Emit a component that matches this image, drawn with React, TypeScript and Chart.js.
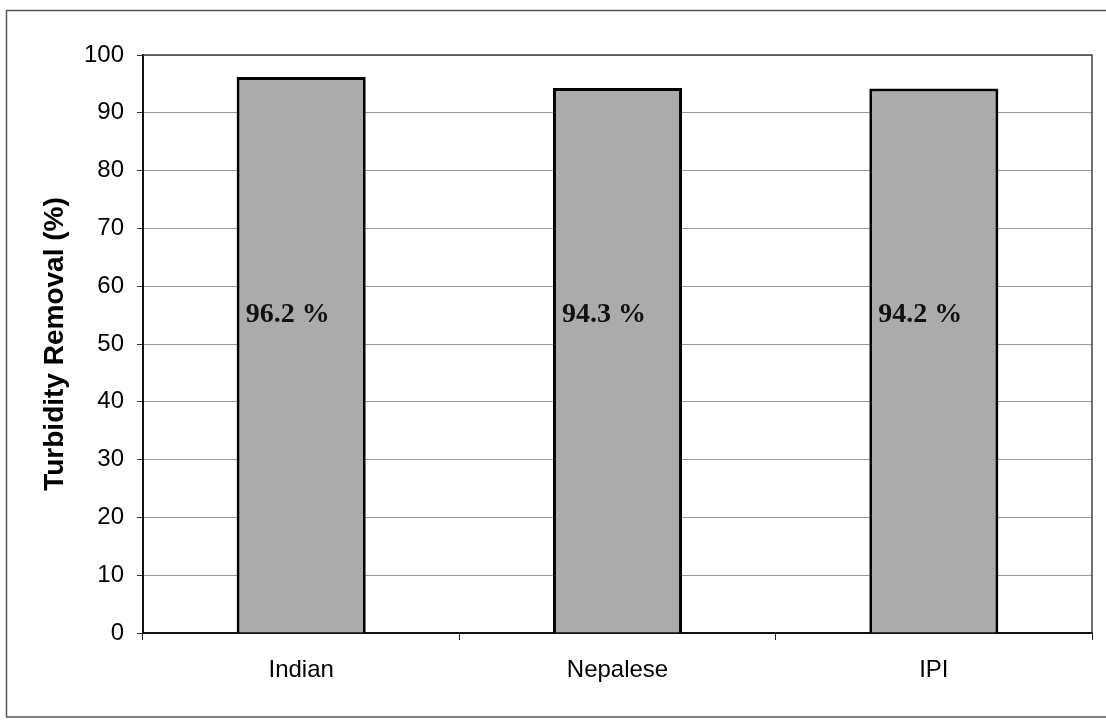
import React, { useEffect, useRef } from "react";
import { Chart, registerables } from "chart.js";

Chart.register(...registerables);

const categories = ["Indian", "Nepalese", "IPI"];
const removal = [96.2, 94.3, 94.2];
const yTicks = [0, 10, 20, 30, 40, 50, 60, 70, 80, 90, 100];
const yTitle = "Turbidity Removal (%)";
const labelLevel = 55;

const framePlugin = {
  id: "frame",
  beforeDraw(chart: any) {
    const ctx = chart.ctx;
    ctx.save();
    ctx.fillStyle = "#ffffff";
    ctx.fillRect(0, 0, chart.width, chart.height);
    ctx.strokeStyle = "#555555";
    ctx.lineWidth = 1.5;
    ctx.strokeRect(6.5, 10.5, chart.width + 20, 706.5);
    ctx.restore();
  },
  afterDatasetsDraw(chart: any) {
    const ctx = chart.ctx;
    const a = chart.chartArea;
    ctx.save();
    ctx.strokeStyle = "#444444";
    ctx.lineWidth = 1.5;
    ctx.beginPath();
    ctx.moveTo(a.left, a.top);
    ctx.lineTo(a.right, a.top);
    ctx.lineTo(a.right, a.bottom);
    ctx.stroke();
    const meta = chart.getDatasetMeta(0);
    const yScale = chart.scales.y;
    ctx.fillStyle = "#111111";
    ctx.font = "bold 28px 'Liberation Serif', 'Times New Roman', serif";
    ctx.textAlign = "left";
    ctx.textBaseline = "middle";
    meta.data.forEach((bar: any, i: number) => {
      const props = bar.getProps(["x", "width"], true);
      ctx.fillText(
        `${removal[i].toFixed(1)} %`,
        props.x - props.width / 2 + 9,
        yScale.getPixelForValue(labelLevel)
      );
    });
    ctx.restore();
  },
};

export default function App() {
  const ref = useRef<HTMLCanvasElement | null>(null);
  useEffect(() => {
    document.body.style.margin = "0";
    if (!ref.current) return;
    const chart = new Chart(ref.current, {
      type: "bar",
      data: {
        labels: categories,
        datasets: [
          {
            data: removal,
            backgroundColor: "#ababab",
            borderColor: "#000000",
            borderWidth: 3,
            categoryPercentage: 1,
            barPercentage: 0.408,
          },
        ],
      },
      options: {
        animation: false,
        responsive: false,
        maintainAspectRatio: false,
        layout: { padding: { left: 38, top: 55, right: 14, bottom: 0 } },
        plugins: {
          legend: { display: false },
          tooltip: { enabled: false },
        },
        scales: {
          x: {
            offset: true,
            grid: {
              offset: true,
              drawOnChartArea: false,
              drawTicks: true,
              tickLength: 7,
              color: "#222222",
              lineWidth: 1,
            },
            border: { color: "#111111", width: 2 },
            ticks: {
              color: "#000000",
              padding: 16,
              font: { family: "'Liberation Sans', Arial, sans-serif", size: 24 },
            },
            afterFit(scale: any) {
              scale.height = 88;
            },
          },
          y: {
            min: 0,
            max: 100,
            afterBuildTicks(scale: any) {
              scale.ticks = yTicks.map((v) => ({ value: v }));
            },
            grid: {
              color: "#999999",
              lineWidth: 1,
              drawTicks: true,
              tickLength: 6,
              tickColor: "#333333",
            },
            border: { color: "#111111", width: 2 },
            ticks: {
              color: "#000000",
              padding: 13,
              font: { family: "'Liberation Sans', Arial, sans-serif", size: 24 },
            },
            title: {
              display: true,
              text: yTitle,
              color: "#000000",
              padding: 0,
              font: {
                family: "'Liberation Sans', Arial, sans-serif",
                size: 28,
                weight: "bold",
              },
            },
            afterFit(scale: any) {
              scale.width = 105;
            },
          },
        },
      },
      plugins: [framePlugin],
    });
    return () => chart.destroy();
  }, []);
  return (
    <div style={{ width: 1106, height: 721 }}>
      <canvas ref={ref} width={1106} height={721} style={{ display: "block" }} />
    </div>
  );
}
